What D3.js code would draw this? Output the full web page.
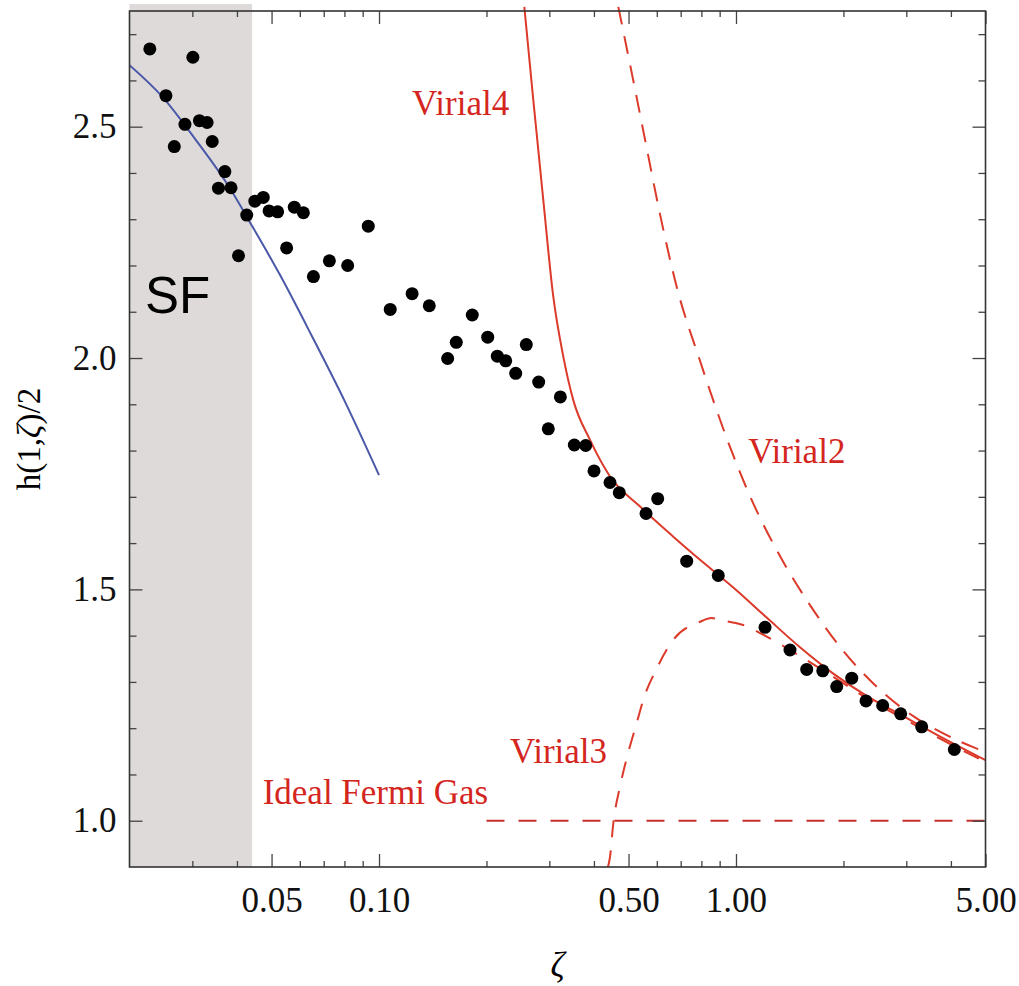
<!DOCTYPE html>
<html>
<head>
<meta charset="utf-8">
<script src="https://cdn.jsdelivr.net/npm/d3@7"></script>
<style>
    body { margin: 0; background: #fff; }
    svg { display: block; }
    text { font-family: "Liberation Serif", "Times New Roman", serif; }
</style>
</head>
<body>
<svg id="chart" width="1019" height="986"></svg>
<script>
// measured points h(1,zeta)/2
const dotZeta = [0.0228, 0.0301, 0.0253, 0.0286, 0.0267, 0.0314, 0.0330, 0.0341, 0.0370, 0.0355,
    0.0385, 0.0426, 0.0404, 0.0449, 0.0474, 0.0492, 0.0520, 0.0551, 0.0579, 0.0614,
    0.0655, 0.0726, 0.0817, 0.0933, 0.1075, 0.1238, 0.1383, 0.1825, 0.1646, 0.1557,
    0.2016, 0.2145, 0.2264, 0.2415, 0.2586, 0.2801, 0.3221, 0.2980, 0.3525, 0.3793,
    0.4002, 0.4437, 0.4711, 0.6035, 0.5598, 0.7276, 0.8920, 1.206, 1.417, 1.578,
    1.750, 1.915, 2.110, 2.313, 2.576, 2.893, 3.313, 4.089]
const dotH = [2.668, 2.650, 2.567, 2.505, 2.457, 2.513, 2.509, 2.468, 2.403, 2.367,
    2.368, 2.309, 2.221, 2.339, 2.347, 2.318, 2.316, 2.238, 2.326, 2.314,
    2.176, 2.210, 2.200, 2.285, 2.105, 2.139, 2.113, 2.093, 2.034, 1.999,
    2.045, 2.004, 1.994, 1.967, 2.029, 1.948, 1.916, 1.847, 1.812, 1.811,
    1.756, 1.731, 1.709, 1.696, 1.664, 1.561, 1.530, 1.418, 1.369, 1.327,
    1.324, 1.290, 1.308, 1.259, 1.249, 1.231, 1.203, 1.154]

// superfluid side curve (blue)
const sfZeta = [0.02, 0.0247, 0.0307, 0.0380, 0.0442, 0.0525, 0.0650, 0.0807, 0.1]
const sfH = [2.633, 2.565, 2.471, 2.370, 2.284, 2.183, 2.046, 1.902, 1.747]

// virial expansions
const virial4Zeta = [0.2553, 0.2705, 0.2885, 0.3077, 0.3283, 0.3501, 0.3900, 0.4437, 0.5385, 0.6673,
    0.8276, 0.9827, 1.219, 1.511, 1.873, 2.323, 2.880, 3.570, 5.0]
const virial4H = [2.759, 2.558, 2.342, 2.133, 2.003, 1.909, 1.823, 1.744, 1.679, 1.614,
    1.552, 1.504, 1.439, 1.375, 1.318, 1.270, 1.230, 1.190, 1.131]

const virial2Zeta = [0.4681, 0.5158, 0.5622, 0.6125, 0.6821, 0.7928, 0.9417, 1.094, 1.328, 1.612,
    1.998, 2.532, 3.138, 3.892, 4.621, 5.0]
const virial2H = [2.759, 2.599, 2.454, 2.311, 2.154, 1.994, 1.827, 1.702, 1.572, 1.466,
    1.367, 1.283, 1.226, 1.185, 1.159, 1.149]

const virial3Zeta = [0.4380, 0.4437, 0.4532, 0.4733, 0.4942, 0.5271, 0.5498, 0.6007, 0.6673, 0.7928,
    0.8549, 0.9019, 1.048, 1.245, 1.417, 1.873, 2.323, 2.880, 3.570, 5.0]
const virial3H = [0.900, 0.922, 0.994, 1.074, 1.135, 1.211, 1.261, 1.330, 1.391, 1.430,
    1.438, 1.434, 1.423, 1.394, 1.369, 1.311, 1.265, 1.225, 1.185, 1.127]

const idealZeta = [0.2, 5.0]
const idealH = [1.0, 1.0]

// axes
const xMajorTicks = [0.05, 0.1, 0.5, 1, 5]
const xMinorTicks = [0.03, 0.04, 0.06, 0.07, 0.08, 0.09, 0.2, 0.3, 0.4, 0.6, 0.7, 0.8, 0.9, 2, 3, 4]
const yMajorTicks = [1.0, 1.5, 2.0, 2.5]
const yMinorTicks = [1.1, 1.2, 1.3, 1.4, 1.6, 1.7, 1.8, 1.9, 2.1, 2.2, 2.3, 2.4, 2.6, 2.7]

const WIDTH = 1019
const HEIGHT = 986
const margin = {left: 129.5, right: 33.5, top: 11, bottom: 119}
const RED = "#dc3a2a"
const TEXT_RED = "#d4261e"
const FONT_PX = 35

const svg = d3.select("#chart")

const x = d3.scaleLog().domain([0.02, 5]).range([margin.left, WIDTH - margin.right])
const y = d3.scaleLinear().domain([0.9, 2.75]).range([HEIGHT - margin.bottom, margin.top])

svg.append("defs").append("clipPath").attr("id", "plotClip")
    .append("rect")
    .attr("x", x(0.02))
    .attr("y", y(2.765))
    .attr("width", x(5) - x(0.02))
    .attr("height", y(0.9) - y(2.765))

// SF region
svg.append("rect")
    .attr("x", x(0.02))
    .attr("y", y(2.765))
    .attr("width", x(0.0441) - x(0.02))
    .attr("height", y(0.9) - y(2.765))
    .attr("fill", "#dddad9")

const plot = svg.append("g").attr("clip-path", "url(#plotClip)")

const line = d3.line()
    .x(d => x(d[0]))
    .y(d => y(d[1]))
    .curve(d3.curveMonotoneX)

function drawCurve(zetas, hs, color, dash, width = 2) {
    plot.append("path")
        .datum(d3.zip(zetas, hs))
        .attr("d", line)
        .attr("fill", "none")
        .attr("stroke", color)
        .attr("stroke-width", width)
        .attr("stroke-dasharray", dash)
}

drawCurve(sfZeta, sfH, "#4a58a8", null)
drawCurve(idealZeta, idealH, "#c8302c", "18,14", 2.2)
drawCurve(virial3Zeta, virial3H, RED, "17,13")
drawCurve(virial2Zeta, virial2H, RED, "18,12")
drawCurve(virial4Zeta, virial4H, RED, null)

plot.selectAll("circle.dot")
    .data(d3.zip(dotZeta, dotH))
    .enter()
    .append("circle")
    .attr("class", "dot")
    .attr("cx", d => x(d[0]))
    .attr("cy", d => y(d[1]))
    .attr("r", 6.5)
    .attr("fill", "#000")

// frame + ticks
function styleAxis(g) {
    g.select(".domain").remove()
    g.selectAll(".tick line").attr("stroke", "#444").attr("stroke-width", 1.3)
    g.selectAll(".tick text")
        .attr("fill", "#111")
        .style("font-size", FONT_PX + "px")
        .style("font-family", '"Liberation Serif", serif')
}

const plotBottom = y(0.9), plotTop = y(2.75), plotLeft = x(0.02), plotRight = x(5)

svg.append("g").attr("transform", `translate(0,${plotBottom})`)
    .call(d3.axisBottom(x).tickValues(xMajorTicks).tickSize(-13).tickPadding(20).tickFormat(d3.format(".2f")))
    .call(styleAxis)
svg.append("g").attr("transform", `translate(0,${plotBottom})`)
    .call(d3.axisBottom(x).tickValues(xMinorTicks).tickSize(-6).tickFormat(""))
    .call(styleAxis)
svg.append("g").attr("transform", `translate(0,${plotTop})`)
    .call(d3.axisTop(x).tickValues(xMajorTicks).tickSize(-13).tickFormat(""))
    .call(styleAxis)
svg.append("g").attr("transform", `translate(0,${plotTop})`)
    .call(d3.axisTop(x).tickValues(xMinorTicks).tickSize(-6).tickFormat(""))
    .call(styleAxis)

svg.append("g").attr("transform", `translate(${plotLeft},0)`)
    .call(d3.axisLeft(y).tickValues(yMajorTicks).tickSize(-13).tickPadding(13).tickFormat(d3.format(".1f")))
    .call(styleAxis)
svg.append("g").attr("transform", `translate(${plotLeft},0)`)
    .call(d3.axisLeft(y).tickValues(yMinorTicks).tickSize(-7).tickFormat(""))
    .call(styleAxis)
svg.append("g").attr("transform", `translate(${plotRight},0)`)
    .call(d3.axisRight(y).tickValues(yMajorTicks).tickSize(-13).tickFormat(""))
    .call(styleAxis)
svg.append("g").attr("transform", `translate(${plotRight},0)`)
    .call(d3.axisRight(y).tickValues(yMinorTicks).tickSize(-7).tickFormat(""))
    .call(styleAxis)

svg.append("rect")
    .attr("x", plotLeft).attr("y", plotTop)
    .attr("width", plotRight - plotLeft).attr("height", plotBottom - plotTop)
    .attr("fill", "none")
    .attr("stroke", "#333")
    .attr("stroke-width", 1.6)

// axis titles
svg.append("text")
    .attr("x", (plotLeft + plotRight) / 2)
    .attr("y", 977)
    .attr("text-anchor", "middle")
    .style("font-size", FONT_PX + "px")
    .style("font-style", "italic")
    .text("ζ")

const yTitle = svg.append("text")
    .attr("transform", `translate(40,${(plotTop + plotBottom) / 2}) rotate(-90)`)
    .attr("text-anchor", "middle")
    .style("font-size", "33px")
yTitle.append("tspan").text("h(1,")
yTitle.append("tspan").style("font-style", "italic").text("ζ")
yTitle.append("tspan").text(")/2")

// annotations
const notes = [
    {label: "Virial4", zeta: 0.1238, h: 2.525},
    {label: "Virial2", zeta: 1.083, h: 1.774},
    {label: "Virial3", zeta: 0.2328, h: 1.124},
    {label: "Ideal Fermi Gas", zeta: 0.04722, h: 1.036}
]
svg.selectAll("text.note")
    .data(notes)
    .enter()
    .append("text")
    .attr("class", "note")
    .attr("x", d => x(d.zeta))
    .attr("y", d => y(d.h))
    .attr("fill", TEXT_RED)
    .style("font-size", FONT_PX + "px")
    .text(d => d.label)

svg.append("text")
    .attr("x", x(0.0221))
    .attr("y", y(2.097))
    .style("font-family", '"Liberation Sans", Arial, sans-serif')
    .style("font-size", "51px")
    .attr("fill", "#000")
    .text("SF")
</script>
</body>
</html>
